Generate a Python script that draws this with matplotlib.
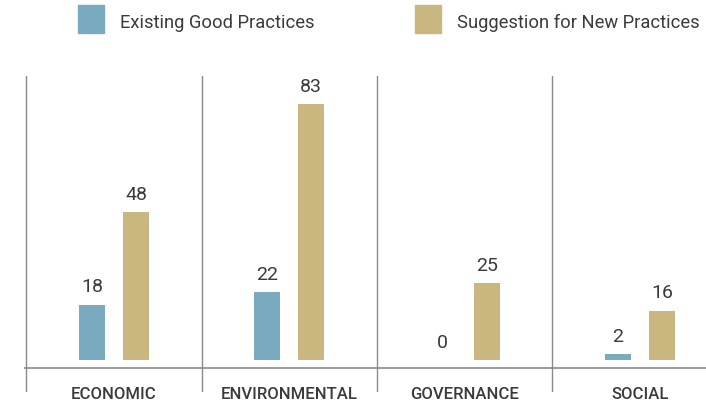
import matplotlib
matplotlib.use("Agg")
import matplotlib.pyplot as plt
from matplotlib.patches import Rectangle

# ---- data ----
categories = ["ECONOMIC", "ENVIRONMENTAL", "GOVERNANCE", "SOCIAL"]
existing = [18, 22, 0, 2]
suggested = [48, 83, 25, 16]
series_names = ["Existing Good Practices", "Suggestion for New Practices"]

blue = "#7aaabf"
tan = "#c9b77f"
txt = "#3a3a3a"
line_col = "#8a8a8a"
plt.rcParams["font.family"] = ["Roboto", "DejaVu Sans"]

W, H = 706, 406
fig = plt.figure(figsize=(W / 100, H / 100), dpi=100)

# axes spans pixel x 24..706, y 77..393
ax = fig.add_axes([24 / W, 1 - 393 / H, 1 - 24 / W, (393 - 77) / H])
ax.set_xlim(-0.513, 3.377)
ax.set_ylim(-10.4, 92.2)
ax.axis("off")

bw = 0.148
off = 0.1255
xs = range(len(categories))
for i in xs:
    ax.bar(i - off, existing[i], width=bw, color=blue)
    ax.bar(i + off, suggested[i], width=bw, color=tan)
    ax.text(i - off, existing[i] + 3.0, str(existing[i]), ha="center", va="bottom",
            fontsize=14, color=txt)
    ax.text(i + off, suggested[i] + 3.0, str(suggested[i]), ha="center", va="bottom",
            fontsize=14, color=txt)
    ax.text(i, -10.9, categories[i], ha="center", va="center", fontsize=12,
            fontweight="medium", color=txt, clip_on=False)
    ax.axvline(i - 0.5, color=line_col, lw=1)

ax.axhline(-2.76, color=line_col, lw=1.2)

# legend at top
for j, (name, c) in enumerate(zip(series_names, [blue, tan])):
    x0 = [78, 415][j]
    fig.patches.append(Rectangle((x0 / W, 1 - 34 / H), 26 / W, 28 / H,
                                 transform=fig.transFigure, color=c))
    fig.text((x0 + 42) / W, 1 - 23 / H, name, ha="left", va="center",
             fontsize=13.2, color=txt)

fig.savefig("out.png", dpi=100)
